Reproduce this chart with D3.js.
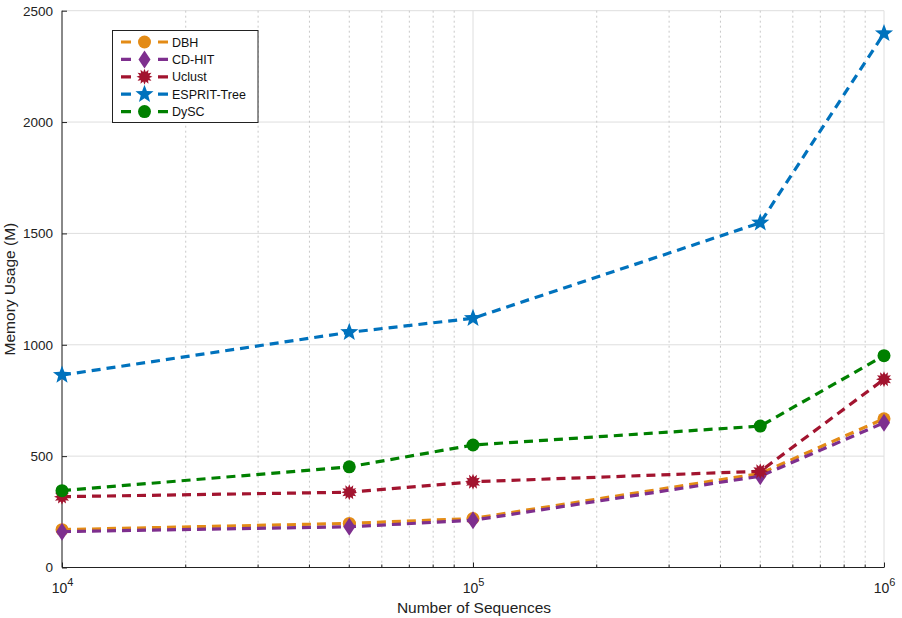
<!DOCTYPE html>
<html><head><meta charset="utf-8">
<script src="https://cdn.jsdelivr.net/npm/d3@7"></script>
<style>body{margin:0;background:#fff;font-family:Arial,"Liberation Sans",sans-serif;}</style>
</head><body><svg id="c" width="902" height="618"></svg>
<script>
const sizes = [1e4, 5e4, 1e5, 5e5, 1e6];
const seriesNames = ["DBH", "CD-HIT", "Uclust", "ESPRIT-Tree", "DySC"];
const dbh    = [170, 198, 220, 422, 668];
const cdhit  = [161, 183, 212, 410, 650];
const uclust = [318, 338, 385, 432, 845];
const esprit = [864, 1056, 1119, 1548, 2398];
const dysc   = [345, 452, 550, 635, 951];
const yTicks = [0, 500, 1000, 1500, 2000, 2500];
const xMajor = [1e4, 1e5, 1e6];

const colors = ["#E38B16", "#7E2F8E", "#A2142F", "#0072BD", "#008000"];
const markers = ["circle", "diamond", "burst", "star", "circle"];
const allValues = [dbh, cdhit, uclust, esprit, dysc];

const svg = d3.select("#c");
const L = 62, R = 884, T = 10.7, B = 567.5;
const x = d3.scaleLog().domain([1e4, 1e6]).range([L, R]);
const y = d3.scaleLinear().domain([0, 2500]).range([B, T]);

const minor = [];
for (let e = 4; e < 6; e++) for (let k = 2; k <= 9; k++) minor.push(k * Math.pow(10, e));

const g = svg.append("g");
g.selectAll(".hg").data(yTicks).join("line")
  .attr("x1", L).attr("x2", R).attr("y1", d => y(d)).attr("y2", d => y(d))
  .attr("stroke", "#dedede").attr("stroke-width", 1);
g.selectAll(".mg").data(minor).join("line")
  .attr("x1", d => x(d)).attr("x2", d => x(d)).attr("y1", T).attr("y2", B)
  .attr("stroke", "#c8c8c8").attr("stroke-width", 1).attr("stroke-dasharray", "2,3");
g.selectAll(".vg").data(xMajor).join("line")
  .attr("x1", d => x(d)).attr("x2", d => x(d)).attr("y1", T).attr("y2", B)
  .attr("stroke", "#dedede").attr("stroke-width", 1);

const yAxis = d3.axisLeft(y).tickValues(yTicks).tickSizeInner(-5).tickSizeOuter(0).tickPadding(9).tickFormat(d3.format("d"));
const ya = svg.append("g").attr("transform", `translate(${L},0)`).call(yAxis);
ya.select(".domain").attr("stroke", "#222").attr("d", `M0,${T}V${B}`);
ya.selectAll(".tick line").attr("stroke", "#222");
ya.selectAll("text").attr("font-size", 13.5).attr("fill", "#222").attr("font-family", "Arial, Liberation Sans, sans-serif");

const xAxis = d3.axisBottom(x).tickValues(xMajor).tickSizeInner(-5).tickSizeOuter(0).tickFormat(() => "");
const xa = svg.append("g").attr("transform", `translate(0,${B})`).call(xAxis);
xa.select(".domain").attr("stroke", "#222").attr("d", `M${L},0H${R}`);
xa.selectAll(".tick line").attr("stroke", "#222");
xa.selectAll(".tick").append("text").attr("y", 25).attr("fill", "#222").attr("text-anchor", "middle")
  .attr("font-size", 14).attr("font-family", "Arial, Liberation Sans, sans-serif")
  .each(function(d){
    const t = d3.select(this);
    t.append("tspan").text("10");
    t.append("tspan").text(Math.round(Math.log10(d))).attr("font-size", 11).attr("dy", -7);
  });
svg.append("g").selectAll("line").data(minor).join("line")
  .attr("x1", d => x(d)).attr("x2", d => x(d)).attr("y1", B).attr("y2", B - 3)
  .attr("stroke", "#222");

svg.append("text").attr("x", (L + R) / 2 + 1).attr("y", 613).attr("text-anchor", "middle")
  .attr("font-size", 15.5).attr("fill", "#222").text("Number of Sequences");
svg.append("text").attr("transform", `translate(15,${(T + B) / 2}) rotate(-90)`).attr("text-anchor", "middle")
  .attr("font-size", 15.5).attr("fill", "#222").text("Memory Usage (M)");

function burstPath(r) {
  const n = 12, ri = r * 0.62; let p = "";
  for (let i = 0; i < 2 * n; i++) {
    const a = Math.PI * i / n - Math.PI / 2;
    const rr = i % 2 === 0 ? r : ri;
    p += (i ? "L" : "M") + (rr * Math.cos(a)).toFixed(2) + "," + (rr * Math.sin(a)).toFixed(2);
  }
  return p + "Z";
}
function starPath(r) {
  const ri = r * 0.42; let p = "";
  for (let i = 0; i < 10; i++) {
    const a = Math.PI * i / 5 - Math.PI / 2;
    const rr = i % 2 === 0 ? r : ri;
    p += (i ? "L" : "M") + (rr * Math.cos(a)).toFixed(2) + "," + (rr * Math.sin(a)).toFixed(2);
  }
  return p + "Z";
}
function drawMarker(sel, type, color) {
  if (type === "circle") sel.append("circle").attr("r", 6.5).attr("fill", color);
  else if (type === "diamond") sel.append("path").attr("d", "M0,-9L6,0L0,9L-6,0Z").attr("fill", color);
  else if (type === "burst") sel.append("path").attr("d", burstPath(8)).attr("fill", color);
  else if (type === "star") sel.append("path").attr("d", starPath(9.5)).attr("fill", color);
}

const line = d3.line().x(d => x(d[0])).y(d => y(d[1]));
seriesNames.forEach((name, i) => {
  const pts = sizes.map((s, j) => [s, allValues[i][j]]);
  svg.append("path").datum(pts).attr("d", line).attr("fill", "none")
    .attr("stroke", colors[i]).attr("stroke-width", 3.2).attr("stroke-dasharray", "9,6");
  pts.forEach(p => {
    const m = svg.append("g").attr("transform", `translate(${x(p[0])},${y(p[1])})`);
    drawMarker(m, markers[i], colors[i]);
  });
});

const lg = svg.append("g");
lg.append("rect").attr("x", 112.5).attr("y", 30.5).attr("width", 145.5).attr("height", 92)
  .attr("fill", "#fff").attr("stroke", "#222").attr("stroke-width", 1);
seriesNames.forEach((name, i) => {
  const yy = 42 + i * 17.4;
  lg.append("line").attr("x1", 121).attr("x2", 168).attr("y1", yy).attr("y2", yy)
    .attr("stroke", colors[i]).attr("stroke-width", 3.2).attr("stroke-dasharray", "10,27");
  const m = lg.append("g").attr("transform", `translate(144.5,${yy})`);
  drawMarker(m, markers[i], colors[i]);
  lg.append("text").attr("x", 172).attr("y", yy + 4.5).attr("font-size", 12.5).attr("fill", "#111").text(name);
});
</script></body></html>
